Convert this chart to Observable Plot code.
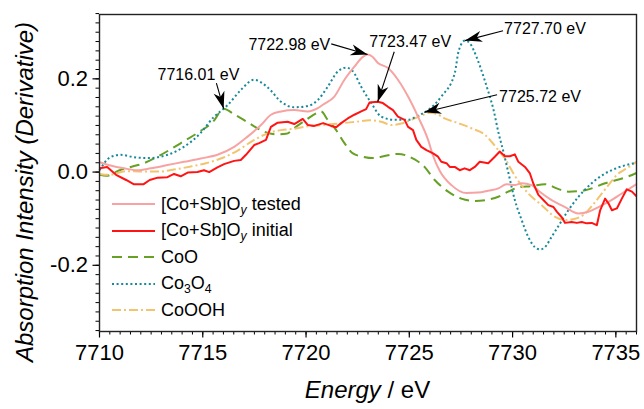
<!DOCTYPE html>
<html>
<head>
<meta charset="utf-8">
<script src="https://cdn.jsdelivr.net/npm/d3@7"></script>
<script src="https://cdn.jsdelivr.net/npm/@observablehq/plot@0.6"></script>
<style>
  body { margin: 0; background: #fff; font-family: Arial, "Liberation Sans", sans-serif; }
  #chart { position: relative; width: 644px; height: 409px; overflow: hidden; }
  #chart svg { display: block; }
  .legend { position: absolute; left: 112px; top: 191px; font-size: 18px; color: #000; }
  .legend .row { display: flex; align-items: center; height: 26.5px; white-space: nowrap; }
  .legend svg { margin-right: 5px; }
  .legend sub { font-size: 0.68em; vertical-align: -0.3em; line-height: 0; }
  .xtitle { position: absolute; left: 99px; width: 537px; top: 378px; text-align: center;
            font-size: 24px; line-height: 24px; color: #000; }
</style>
</head>
<body>
<div id="chart"></div>
<script>
// Derivative of the Co K-edge absorption: [energy (eV), dμ/dE]
const testedSpectrum = [
  [7710.00, 0.021], [7710.53, 0.014], [7711.18, 0.008], [7711.83, 0.004], [7712.48, 0.008],
  [7713.29, 0.015], [7714.09, 0.022], [7714.90, 0.029], [7715.71, 0.037], [7716.52, 0.054],
  [7717.17, 0.076], [7717.82, 0.101], [7718.30, 0.123], [7718.79, 0.130], [7719.43, 0.133],
  [7720.08, 0.130], [7720.57, 0.137], [7720.83, 0.145], [7721.37, 0.162], [7721.86, 0.198],
  [7722.34, 0.226], [7722.75, 0.247], [7722.98, 0.252], [7723.20, 0.248], [7723.48, 0.234],
  [7723.97, 0.223], [7724.45, 0.198], [7724.94, 0.162], [7725.42, 0.119], [7725.91, 0.069],
  [7726.15, 0.035], [7726.47, 0.003], [7727.04, -0.028], [7727.77, -0.045], [7728.33, -0.044],
  [7728.82, -0.040], [7729.31, -0.035], [7729.71, -0.026], [7730.11, -0.028], [7730.44, -0.024],
  [7730.92, -0.028], [7731.25, -0.040], [7731.89, -0.060], [7732.54, -0.075], [7733.19, -0.089],
  [7733.67, -0.085], [7734.16, -0.075], [7734.64, -0.064], [7735.29, -0.046], [7736.00, -0.026]
];

const initialSpectrum = [
  [7710.00, 0.008], [7710.37, 0.011], [7710.80, -0.006], [7711.29, -0.017], [7711.65, -0.026],
  [7712.14, -0.026], [7712.43, -0.017], [7712.82, -0.012], [7713.29, -0.011], [7713.61, -0.004],
  [7713.93, -0.009], [7714.27, -0.001], [7714.74, 0.000], [7715.06, 0.004], [7715.31, 0.000],
  [7715.71, 0.010], [7716.03, 0.017], [7716.52, 0.024], [7716.84, 0.026], [7717.09, 0.037],
  [7717.49, 0.058], [7717.73, 0.062], [7718.06, 0.069], [7718.30, 0.097], [7718.63, 0.106],
  [7719.11, 0.108], [7719.43, 0.103], [7719.84, 0.114], [7720.08, 0.101], [7720.40, 0.099],
  [7720.83, 0.105], [7721.21, 0.099], [7721.46, 0.096], [7721.70, 0.105], [7722.02, 0.115],
  [7722.34, 0.123], [7722.67, 0.130], [7722.91, 0.135], [7723.07, 0.149], [7723.47, 0.151],
  [7723.72, 0.148], [7723.97, 0.140], [7724.21, 0.133], [7724.45, 0.119], [7724.77, 0.112],
  [7724.94, 0.097], [7725.18, 0.090], [7725.34, 0.069], [7725.58, 0.054], [7725.83, 0.047],
  [7726.15, 0.040], [7726.39, 0.033], [7726.55, 0.022], [7726.80, 0.019], [7726.96, 0.011],
  [7727.20, 0.011], [7727.44, 0.004], [7727.68, 0.008], [7727.93, 0.004], [7728.17, 0.011],
  [7728.41, 0.022], [7728.82, 0.019], [7729.14, 0.033], [7729.38, 0.044], [7729.63, 0.034],
  [7729.87, 0.034], [7730.11, 0.038], [7730.28, 0.022], [7730.60, 0.011], [7730.84, -0.003],
  [7731.00, -0.024], [7731.25, -0.049], [7731.49, -0.060], [7731.73, -0.071], [7731.98, -0.075],
  [7732.14, -0.085], [7732.38, -0.097], [7732.54, -0.109], [7732.86, -0.107], [7733.11, -0.109],
  [7733.35, -0.107], [7733.59, -0.110], [7733.83, -0.109], [7734.08, -0.114], [7734.24, -0.082],
  [7734.48, -0.057], [7734.64, -0.067], [7734.81, -0.082], [7735.05, -0.078], [7735.29, -0.057],
  [7735.53, -0.037], [7735.78, -0.042], [7736.00, -0.052]
];

const coOSpectrum = [
  [7710.00, -0.006], [7710.34, -0.008], [7710.97, 0.004], [7711.60, 0.012], [7712.09, 0.018],
  [7712.77, 0.032], [7713.45, 0.049], [7714.08, 0.066], [7714.85, 0.087], [7715.50, 0.108],
  [7716.01, 0.136], [7716.52, 0.124], [7717.17, 0.107], [7717.90, 0.088], [7718.54, 0.081],
  [7719.03, 0.082], [7719.51, 0.097], [7720.00, 0.112], [7720.49, 0.126], [7720.73, 0.130],
  [7721.05, 0.112], [7721.46, 0.090], [7721.86, 0.062], [7722.27, 0.040], [7722.75, 0.033],
  [7723.24, 0.030], [7723.64, 0.033], [7724.45, 0.039], [7725.26, 0.027], [7725.74, 0.011],
  [7726.23, -0.017], [7726.88, -0.042], [7727.52, -0.057], [7728.17, -0.062], [7728.82, -0.059],
  [7729.31, -0.053], [7729.79, -0.042], [7730.28, -0.033], [7730.92, -0.030], [7731.57, -0.026],
  [7732.20, -0.036], [7732.70, -0.042], [7733.51, -0.039], [7734.48, -0.024], [7735.62, -0.009],
  [7736.00, -0.002]
];

const co3o4Spectrum = [
  [7710.00, 0.004], [7710.53, 0.032], [7711.02, 0.037], [7711.65, 0.032], [7712.33, 0.030],
  [7713.30, 0.037], [7714.08, 0.054], [7714.90, 0.084], [7715.53, 0.118], [7716.01, 0.136],
  [7716.21, 0.144], [7716.84, 0.176], [7717.48, 0.198], [7718.16, 0.181], [7718.79, 0.151],
  [7719.42, 0.139], [7720.10, 0.142], [7720.58, 0.155], [7721.05, 0.183], [7721.54, 0.216],
  [7721.94, 0.224], [7722.27, 0.216], [7722.67, 0.183], [7723.16, 0.148], [7723.64, 0.119],
  [7724.29, 0.112], [7724.94, 0.112], [7725.42, 0.121], [7725.91, 0.133], [7726.55, 0.162],
  [7727.20, 0.212], [7727.39, 0.260], [7727.70, 0.282], [7727.94, 0.276], [7728.11, 0.262],
  [7728.43, 0.226], [7728.75, 0.183], [7729.08, 0.133], [7729.32, 0.084], [7729.56, 0.043],
  [7729.81, -0.004], [7730.11, -0.060], [7730.44, -0.103], [7730.76, -0.139], [7731.08, -0.161],
  [7731.33, -0.166], [7731.57, -0.161], [7731.89, -0.139], [7732.30, -0.110], [7732.70, -0.082],
  [7733.19, -0.053], [7733.83, -0.024], [7734.48, -0.003], [7735.13, 0.010], [7736.00, 0.020]
];

const coOOHSpectrum = [
  [7710.00, -0.004], [7710.49, -0.006], [7711.26, 0.002], [7712.09, 0.001], [7712.86, 0.001],
  [7713.69, 0.006], [7714.42, 0.012], [7715.15, 0.019], [7715.87, 0.029], [7716.65, 0.045],
  [7717.49, 0.069], [7718.14, 0.083], [7718.79, 0.090], [7719.43, 0.093], [7720.08, 0.098],
  [7720.80, 0.101], [7721.78, 0.105], [7722.43, 0.108], [7723.07, 0.111], [7723.64, 0.108],
  [7724.13, 0.101], [7724.61, 0.104], [7725.10, 0.112], [7725.58, 0.121], [7725.97, 0.127],
  [7726.31, 0.125], [7726.71, 0.115], [7727.36, 0.105], [7728.01, 0.094], [7728.66, 0.080],
  [7728.98, 0.065], [7729.31, 0.047], [7729.63, 0.029], [7730.11, -0.008], [7730.76, -0.046],
  [7731.41, -0.071], [7732.06, -0.096], [7732.54, -0.103], [7733.03, -0.100], [7733.43, -0.092],
  [7734.00, -0.064], [7734.64, -0.028], [7735.05, -0.006], [7735.53, 0.008], [7736.00, 0.022]
];

const xTicks = [7710, 7715, 7720, 7725, 7730, 7735];
const yTicks = [-0.2, 0.0, 0.2];

// Marked features: energy and the spectrum the feature belongs to
const featureEnergies = [7716.01, 7722.98, 7723.47, 7727.70, 7725.72];
const featureSpectra = ["CoO", "tested", "initial", "Co3O4", "Co3O4"];

// Drawing styles, in legend order
const spectra = [
  { key: "tested",  points: testedSpectrum,  label: "[Co+Sb]O<sub><i>y</i></sub> tested",
    stroke: "#f7a3a3", width: 2, dash: null, curve: "monotone-x" },
  { key: "initial", points: initialSpectrum, label: "[Co+Sb]O<sub><i>y</i></sub> initial",
    stroke: "#ff1414", width: 2, dash: null, curve: "linear" },
  { key: "CoO",     points: coOSpectrum,     label: "CoO",
    stroke: "#66a024", width: 2, dash: "10,6", curve: "monotone-x" },
  { key: "Co3O4",   points: co3o4Spectrum,   label: "Co<sub>3</sub>O<sub>4</sub>",
    stroke: "#17899a", width: 2, dash: "2,2.6", curve: "monotone-x" },
  { key: "CoOOH",   points: coOOHSpectrum,   label: "CoOOH",
    stroke: "#f3c46f", width: 2, dash: "9,3,2,3", curve: "monotone-x" }
];
const drawOrder = ["CoO", "CoOOH", "Co3O4", "tested", "initial"];

// Callout placement: label centre and arrow tail, in data units
const calloutLayout = [
  { tx: 7714.79, ty: 0.209, ax: 7715.66, ay: 0.191 },
  { tx: 7719.19, ty: 0.273, ax: 7721.22, ay: 0.275 },
  { tx: 7725.04, ty: 0.280, ax: 7724.27, ay: 0.258 },
  { tx: 7731.57, ty: 0.308, ax: 7729.54, ay: 0.303 },
  { tx: 7731.33, ty: 0.161, ax: 7729.25, ay: 0.166 }
];

const width = 644, height = 409;
const margin = { top: 14, right: 8, bottom: 78, left: 99 };
const xDomain = [7710, 7736];
const yDomain = [-0.342, 0.338];

const byKey = Object.fromEntries(spectra.map(s => [s.key, s]));
function valueAt(points, e) {
  const i = d3.bisector(d => d[0]).left(points, e);
  if (i <= 0) return points[0][1];
  if (i >= points.length) return points[points.length - 1][1];
  const [e0, v0] = points[i - 1], [e1, v1] = points[i];
  return v0 + (v1 - v0) * (e - e0) / (e1 - e0);
}

// Same mapping as the plot's scales, used only to orient the arrowheads
const sx = d3.scaleLinear(xDomain, [margin.left, width - margin.right]);
const sy = d3.scaleLinear(yDomain, [height - margin.bottom, margin.top]);

const callouts = featureEnergies.map((e, i) => {
  const v = valueAt(byKey[featureSpectra[i]].points, e);
  const L = calloutLayout[i];
  const angle = Math.atan2(sy(v) - sy(L.ay), sx(e) - sx(L.ax)) * 180 / Math.PI;
  return { e, v, label: `${e.toFixed(2)} eV`, ...L, angle };
});

// Filled, notched arrowhead with its tip at the origin, pointing along +x
const arrowHead = {
  draw(ctx) {
    ctx.moveTo(0, 0);
    ctx.lineTo(-17, -5.6);
    ctx.lineTo(-12, 0);
    ctx.lineTo(-17, 5.6);
    ctx.closePath();
  }
};

const fmtX = d3.format("d");
const fmtY = d => d.toFixed(1);

const lineMarks = drawOrder.map(k => {
  const s = byKey[k];
  return Plot.line(s.points, {
    x: d => d[0], y: d => d[1],
    stroke: s.stroke, strokeWidth: s.width,
    strokeDasharray: s.dash ?? undefined,
    curve: s.curve, strokeLinejoin: "round", strokeLinecap: "butt"
  });
});

const plot = Plot.plot({
  width, height,
  marginTop: margin.top, marginRight: margin.right,
  marginBottom: margin.bottom, marginLeft: margin.left,
  style: { fontFamily: 'Arial, "Liberation Sans", sans-serif', fontSize: "22px", color: "#000", background: "#fff" },
  x: { domain: xDomain },
  y: { domain: yDomain },
  marks: [
    ...lineMarks,
    // minor ticks
    Plot.axisX(d3.range(7710, 7736.001, 0.5), { tickSize: 3.5, fill: "none", label: null, strokeWidth: 1 }),
    Plot.axisY(d3.range(-34, 34.1, 2).map(d => d / 100), { tickSize: 3.5, fill: "none", label: null, strokeWidth: 1 }),
    // major ticks and labels
    Plot.axisX(xTicks, { tickSize: 6.5, tickPadding: 6, tickFormat: fmtX, label: null, fontSize: 22, strokeWidth: 1.2 }),
    Plot.axisY(yTicks, { tickSize: 6.5, tickPadding: 5, tickFormat: fmtY, label: null, fontSize: 22, strokeWidth: 1.2 }),
    Plot.frame({ stroke: "#222", strokeWidth: 1.4 }),
    // y-axis title
    Plot.text(["Absorption Intensity (Derivative)"], {
      frameAnchor: "left", text: d => d, rotate: -90, dx: -67, dy: 19,
      fontSize: 24, fontStyle: "italic", textAnchor: "middle", lineAnchor: "bottom", fill: "#000"
    }),
    // callouts
    Plot.link(callouts, { x1: "ax", y1: "ay", x2: "e", y2: "v", stroke: "#000", strokeWidth: 1.1 }),
    Plot.dot(callouts, { x: "e", y: "v", symbol: arrowHead, rotate: "angle", fill: "#000", stroke: "none", r: 5 }),
    Plot.text(callouts, { x: "tx", y: "ty", text: "label", fontSize: 16, fill: "#000", textAnchor: "middle" })
  ]
});

const chart = document.getElementById("chart");
chart.appendChild(plot);

// Legend
const legend = document.createElement("div");
legend.className = "legend";
for (const s of spectra) {
  const row = document.createElement("div");
  row.className = "row";
  const dash = s.dash ? ` stroke-dasharray="${s.dash}"` : "";
  row.innerHTML = `<svg width="44" height="10"><line x1="0" x2="43" y1="5" y2="5" stroke="${s.stroke}" stroke-width="${s.width}"${dash}/></svg><span>${s.label}</span>`;
  legend.appendChild(row);
}
chart.appendChild(legend);

// x-axis title
const xTitle = document.createElement("div");
xTitle.className = "xtitle";
xTitle.innerHTML = "<i>Energy</i> / eV";
chart.appendChild(xTitle);
</script>
</body>
</html>
